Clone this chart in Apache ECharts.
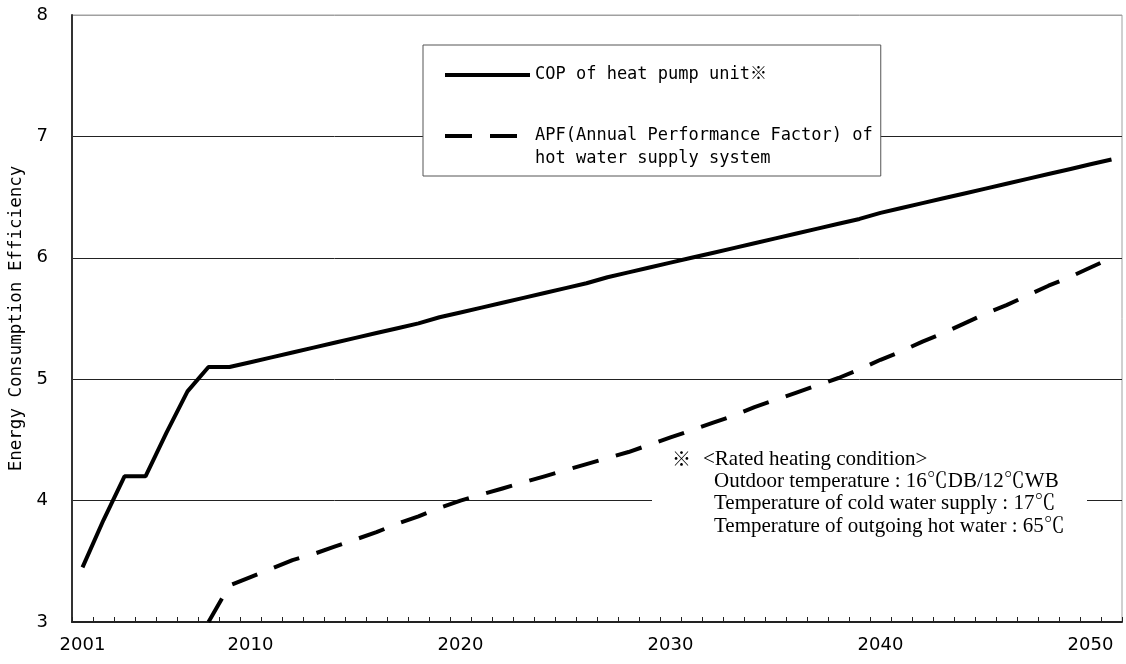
<!DOCTYPE html>
<html>
<head>
<meta charset="utf-8">
<script src="https://cdn.jsdelivr.net/npm/echarts@6/dist/echarts.min.js"></script>
<style>
html,body{margin:0;padding:0;background:#fff;}
#chart{width:1126px;height:664px;}
</style>
</head>
<body>
<div id="chart"></div>
<script>
// Category labels (x axis): first point labelled 2001, then yearly
const years = ['2001','2003','2004','2005','2006','2007','2008','2009','2010','2011',
  '2012','2013','2014','2015','2016','2017','2018','2019','2020','2021',
  '2022','2023','2024','2025','2026','2027','2028','2029','2030','2031',
  '2032','2033','2034','2035','2036','2037','2038','2039','2040','2041',
  '2042','2043','2044','2045','2046','2047','2048','2049','2050','2051'];
const shownYearLabels = ['2001','2010','2020','2030','2040','2050'];

const copName = 'COP of heat pump unit※';
const apfName = 'APF(Annual Performance Factor) of\nhot water supply system';

const copValues = [3.45,3.84,4.20,4.20,4.56,4.90,5.10,5.10,5.14,5.18,
  5.22,5.26,5.30,5.34,5.38,5.42,5.46,5.51,5.55,5.59,
  5.63,5.67,5.71,5.75,5.79,5.84,5.88,5.92,5.96,6.00,
  6.04,6.08,6.12,6.16,6.20,6.24,6.28,6.32,6.37,6.41,
  6.45,6.49,6.53,6.57,6.61,6.65,6.69,6.73,6.77,6.81];

const apfValues = [null,null,null,null,null,null,3.00,3.30,3.37,3.44,
  3.51,3.56,3.62,3.68,3.74,3.81,3.87,3.94,4.00,4.05,
  4.10,4.15,4.20,4.25,4.30,4.35,4.40,4.46,4.52,4.58,
  4.64,4.70,4.77,4.83,4.89,4.95,5.01,5.08,5.16,5.23,
  5.31,5.38,5.46,5.54,5.61,5.69,5.77,5.84,5.92,6.00];

const yAxisName = 'Energy Consumption Efficiency';
const noteMark = '※';
const noteLines = [
  '<Rated heating condition>',
  'Outdoor temperature : 16℃DB/12℃WB',
  'Temperature of cold water supply : 17℃',
  'Temperature of outgoing hot water : 65℃'
];

const sans = '"DejaVu Sans", "Noto Sans CJK JP", sans-serif';
const mono = '"DejaVu Sans Mono", "Noto Sans CJK JP", monospace';
const serif = '"Liberation Serif", "Noto Serif CJK JP", "Noto Sans CJK JP", serif';

const chart = echarts.init(document.getElementById('chart'), null, {renderer:'canvas'});
chart.setOption({
  animation: false,
  backgroundColor: '#fff',
  grid: {left: 72, right: 4, top: 15, bottom: 42, show: true, borderColor: '#a0a0a0', borderWidth: 1,
         containLabel: false, outerBoundsMode: 'none'},
  legend: {
    left: 423, top: 45, orient: 'vertical',
    backgroundColor: '#fff', borderColor: '#555', borderWidth: 1,
    padding: [18.5, 8, 5.5, 20],
    itemGap: 15, itemWidth: 85, itemHeight: 14,
    itemStyle: {opacity: 0},
    lineStyle: {width: 4},
    textStyle: {fontFamily: mono, fontSize: 17, color: '#000', lineHeight: 23},
    formatter: function (name) { return name === apfName ? '\n' + name : name; },
    data: [{name: copName}, {name: apfName}]
  },
  xAxis: {
    type: 'category', data: years, boundaryGap: true,
    axisLine: {lineStyle: {color: '#222', width: 2}},
    axisTick: {show: true, inside: true, length: 5, interval: 0, lineStyle: {color: '#222', width: 1}},
    axisLabel: {
      interval: (i, v) => shownYearLabels.indexOf(v) >= 0,
      fontFamily: sans, fontSize: 18, color: '#000', margin: 14
    },
    splitLine: {show: false}
  },
  yAxis: {
    type: 'value', min: 3, max: 8, interval: 1,
    name: yAxisName, nameLocation: 'middle', nameGap: 47, nameRotate: 90,
    nameTextStyle: {fontFamily: mono, fontSize: 17.5, color: '#000'},
    axisLine: {show: true, lineStyle: {color: '#333', width: 2}},
    axisTick: {show: false},
    axisLabel: {fontFamily: sans, fontSize: 18, color: '#000', margin: 24},
    splitLine: {show: true, lineStyle: {color: ['#222','#222','#222','#222','#222','#a0a0a0'], width: 1}}
  },
  series: [
    {name: copName, type: 'line', data: copValues, symbol: 'none', z: 3,
     lineStyle: {color: '#000', width: 4}, itemStyle: {color: '#000'}},
    {name: apfName, type: 'line', data: apfValues, symbol: 'none', z: 3,
     lineStyle: {color: '#000', width: 4, type: [27, 18]}, itemStyle: {color: '#000'}}
  ],
  graphic: [
    {type: 'rect', left: 652, top: 446, shape: {width: 435, height: 94}, style: {fill: '#fff'}, z: 5},
    {type: 'text', z: 6, style: {x: 672, y: 459, verticalAlign: 'middle', text: noteMark, font: '19px "Noto Sans CJK JP"', fill: '#000'}},
    {type: 'text', z: 6, style: {x: 703, y: 459, verticalAlign: 'middle', text: noteLines[0], font: '21px ' + serif, fill: '#000'}},
    {type: 'text', z: 6, style: {x: 714, y: 481, verticalAlign: 'middle', text: noteLines[1], font: '21px ' + serif, fill: '#000'}},
    {type: 'text', z: 6, style: {x: 714, y: 503, verticalAlign: 'middle', text: noteLines[2], font: '21px ' + serif, fill: '#000'}},
    {type: 'text', z: 6, style: {x: 714, y: 526, verticalAlign: 'middle', text: noteLines[3], font: '21px ' + serif, fill: '#000'}}
  ]
});
</script>
</body>
</html>
